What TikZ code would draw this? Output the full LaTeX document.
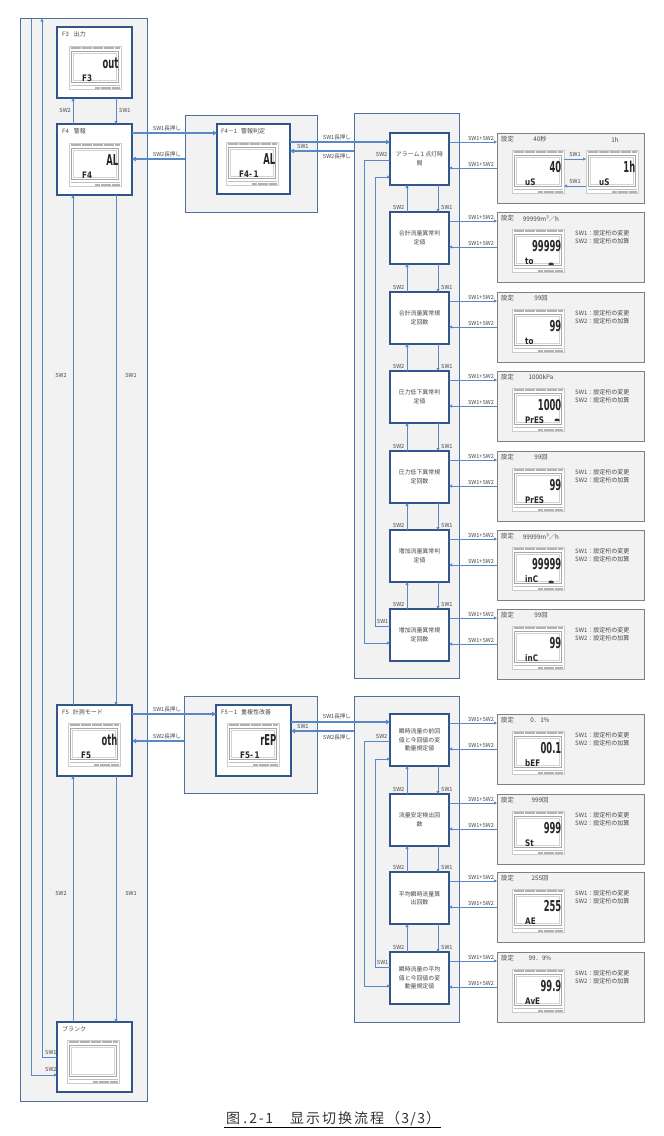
\documentclass[tikz,border=0pt]{standalone}
\usepackage{fontspec}
\setmainfont{Noto Sans CJK JP}
\newfontfamily\capfont{Noto Sans CJK SC}
\newfontfamily\lcdfont[FakeStretch=0.56]{DejaVu Sans}
\newfontfamily\lcdsfont[FakeStretch=0.8]{DejaVu Sans}
\usetikzlibrary{arrows.meta,calc}
\definecolor{lc}{RGB}{88,136,198}
\definecolor{bd}{RGB}{50,85,140}
\definecolor{cbg}{RGB}{242,242,242}
\definecolor{tx}{RGB}{70,70,70}
\definecolor{gbd}{RGB}{128,128,128}
\tikzset{
  cont/.style={draw=bd!85, fill=cbg, line width=0.9pt, inner sep=0pt, outer sep=0pt, anchor=north west},
  fbox/.style={draw=bd, fill=white, line width=1.1pt, inner sep=0pt, outer sep=0pt, anchor=north west, minimum width=75pt, minimum height=71pt},
  abox/.style={draw=bd, fill=white, line width=1.1pt, inner sep=0pt, outer sep=0pt, anchor=north west, minimum width=59pt, minimum height=52pt, align=center, text=tx, font=\fontsize{5.9}{8.5}\selectfont},
  dbox/.style={draw=gbd, fill=cbg, line width=0.9pt, inner sep=0pt, outer sep=0pt, anchor=north west, minimum width=147pt, minimum height=70pt},
  conn/.style={draw=lc, line width=0.8pt},
  arr/.style={conn, -{Triangle[length=3pt,width=3pt]}},
  thk/.style={draw=lc, line width=1.7pt, -{Triangle[length=4pt,width=4.5pt]}},
  lbl/.style={font=\fontsize{5.6}{6}\selectfont, text=tx, inner sep=0pt},
  ttl/.style={font=\fontsize{6}{7}\selectfont, text=tx, inner sep=0pt, anchor=west},
  val/.style={font=\fontsize{6.3}{7}\selectfont, text=tx, inner sep=0pt},
  info/.style={font=\fontsize{6}{8}\selectfont, text=tx, inner sep=0pt, anchor=north west, align=left},
  big/.style={font=\lcdfont\bfseries\fontsize{15}{15}\selectfont, text=black!85, inner sep=0pt, anchor=east},
  small/.style={font=\lcdsfont\bfseries\fontsize{9}{9}\selectfont, text=black!85, inner sep=0pt, anchor=west},
  capt/.style={font=\capfont\fontsize{14}{14}\selectfont, text=black!80, inner sep=0pt, anchor=base west},
  lcd/.pic={
    \node[inner sep=0pt, outer sep=0pt, minimum width=52pt, minimum height=43pt, anchor=north west, fill=white, draw=gray!40, line width=0.4pt] (-f) at (0,0) {};
    \draw[gray!60, line width=2.2pt, dash pattern=on 0.6pt off 0.5pt] (1.5,2) -- (50.5,2);
    \draw[gray!70, line width=1.4pt] (2.5,5.5) rectangle (49.5,36.5);
    \draw[gray!35, line width=0.5pt] (4.3,7.3) rectangle (47.7,34.7);
    \draw[gray!50, line width=0.5pt] (1.5,39) -- (50.5,39);
    \draw[gray!60, line width=2pt, dash pattern=on 0.6pt off 0.5pt] (26,41.5) -- (50.5,41.5);
  }
}
\newcommand\fwc[1]{\makebox[16pt]{#1}}
\newcommand\hwc[1]{\makebox[8pt]{#1}}
\newcommand\lcdat[5]{%
  \pic (#1) at (#2,#3) {lcd};
  \node[big] (#1-b) at (#2+49.5,#3+17) {#4};
  \node[small] (#1-s) at (#2+13,#3+32) {#5};
}
\newcommand\lcdmark[2]{%
  \fill[black!80] (#1-2.5,#2+1.2) -- ++(0,-1.5) -- ++(1.2,-1) -- ++(2.6,0) -- ++(1.2,1) -- ++(0,1.5) -- cycle;
}
\newcommand\setrow[3]{%
  \draw[arr] ($(#1.north east)+(0,9)$) -- ($(#2.north west)+(0,9)$);
  \draw[arr] ($(#2.north west)+(0,35)$) -- ($(#1.north east)+(0,35)$);
  \node[lbl, anchor=south] (#1-la) at (481,#3+7.5) {SW1+SW2};
  \node[lbl, anchor=south] (#1-lb) at (481,#3+33.5) {SW1+SW2};
}
\newcommand\vlink[3]{% upper, lower, top of lower
  \draw[arr] (#2.north -| 407,0) -- (#1.south -| 407,0);
  \draw[arr] (#1.south -| 438,0) -- (#2.north -| 438,0);
  \node[lbl, anchor=south east] (#2-u) at (404.5,#3-2) {SW2};
  \node[lbl, anchor=south west] (#2-d) at (441,#3-2) {SW1};
}
\begin{document}
\begin{tikzpicture}[x=1pt,y=-1pt]
\useasboundingbox (0,0) rectangle (664,1136);
\fill[white] (0,0) rectangle (664,1136);

% containers
\node[cont, minimum width=127pt, minimum height=1083pt] (LC) at (20,18) {};
\node[cont, minimum width=132pt, minimum height=97pt] (C41) at (185,115) {};
\node[cont, minimum width=133pt, minimum height=97pt] (C51) at (184,696) {};
\node[cont, minimum width=105pt, minimum height=565pt] (RC1) at (354,113) {};
\node[cont, minimum width=105pt, minimum height=326pt] (RC2) at (354,696) {};

% left boxes
\node[fbox] (F3) at (57,27) {};
\node[fbox] (F4) at (57,124) {};
\node[fbox] (F5) at (57,705) {};
\node[fbox, minimum height=70pt] (BL) at (57,1022) {};
\node[fbox, minimum width=73pt, minimum height=70pt] (F41) at (217,124) {};
\node[fbox] (F51) at (216,705) {};

\node[ttl] (F3t) at (62,34) {F3\hspace{5pt}出力};
\node[ttl] (F4t) at (62,131) {F4\hspace{5pt}警報};
\node[ttl] (F5t) at (62,712) {F5\hspace{4pt}計測モード};
\node[ttl] (BLt) at (62,1029) {ブランク};
\node[ttl] (F41t) at (221,131) {F4－1\hspace{4pt}警報判定};
\node[ttl] (F51t) at (221,712) {F5－1\hspace{4pt}重複性改善};

\lcdat{L3}{69}{46}{out}{F3}
\lcdat{L4}{69}{143}{AL}{F4}
\lcdat{L41}{226}{142}{AL}{F4-\,1}
\lcdat{L5}{68}{723}{oth}{F5}
\lcdat{L51}{227}{723}{rEP}{F5-\,1}
\pic (LB) at (67,1040) {lcd};

% alarm boxes
\node[abox] (A1) at (390,133) {アラーム１点灯時\\間};
\node[abox] (A2) at (390,212) {合計流量異常判\\定値};
\node[abox] (A3) at (390,292) {合計流量異常規\\定回数};
\node[abox] (A4) at (390,371) {圧力低下異常判\\定値};
\node[abox] (A5) at (390,451) {圧力低下異常規\\定回数};
\node[abox] (A6) at (390,530) {増加流量異常判\\定値};
\node[abox] (A7) at (390,609) {増加流量異常規\\定回数};
\node[abox] (B1) at (390,714) {瞬時流量の前回\\値と今回値の変\\動量規定値};
\node[abox] (B2) at (390,794) {流量安定検出回\\数};
\node[abox] (B3) at (390,872) {平均瞬時流量算\\出回数};
\node[abox] (B4) at (390,952) {瞬時流量の平均\\値と今回値の変\\動量規定値};

% display 1
\node[dbox] (D1) at (497,133) {};
\node[val, anchor=west] (D1-s) at (501,139) {設定};
\node[val] (D1-v) at (540,139.5) {40秒};
\node[val] (D1-w) at (615,139.5) {1h};
\lcdat{LDa}{512}{150}{40}{uS}
\lcdat{LDb}{586}{150}{1h}{uS}
\draw[arr] (LDa-f.east |- 0,159) -- (LDb-f.west |- 0,159);
\draw[arr] (LDb-f.west |- 0,186) -- (LDa-f.east |- 0,186);
\node[lbl] (D1-k1) at (575,154) {SW1};
\node[lbl] (D1-k2) at (575,181) {SW1};

\foreach \n/\t/\v/\b/\s in {2/212/99999m³／h/99999/to, 3/292/99回/99/to, 4/371/1000kPa/1000/PrES, 5/451/99回/99/PrES, 6/530/99999m³／h/99999/inC, 7/609/99回/99/inC}{
  \node[dbox] (D\n) at (497,\t) {};
  \node[val, anchor=west] (D\n-s) at (501,\t+6) {設定};
  \node[val] (D\n-v) at (541,\t+6.5) {\v};
  \lcdat{LD\n}{512}{\t+17}{\b}{\s}
  \node[info] (D\n-i) at (575,\t+18) {SW1：設定桁の変更\\SW2：設定桁の加算};
}
\foreach \n/\t/\v/\b/\s in {1/714/0．1\%/00.1/bEF, 2/794/999回/999/St, 3/872/255回/255/AE, 4/952/99．9\%/99.9/AvE}{
  \node[dbox] (E\n) at (497,\t) {};
  \node[val, anchor=west] (E\n-s) at (501,\t+6) {設定};
  \node[val] (E\n-v) at (540,\t+6.5) {\v};
  \lcdat{LE\n}{512}{\t+17}{\b}{\s}
  \node[info] (E\n-i) at (575,\t+18) {SW1：設定桁の変更\\SW2：設定桁の加算};
}
\lcdmark{551}{264}
\lcdmark{557}{420}
\lcdmark{551}{582}

% rows
\setrow{A1}{D1}{133}
\setrow{A2}{D2}{212}
\setrow{A3}{D3}{292}
\setrow{A4}{D4}{371}
\setrow{A5}{D5}{451}
\setrow{A6}{D6}{530}
\setrow{A7}{D7}{609}
\setrow{B1}{E1}{714}
\setrow{B2}{E2}{794}
\setrow{B3}{E3}{872}
\setrow{B4}{E4}{952}

% vertical links
\vlink{A1}{A2}{212}
\vlink{A2}{A3}{292}
\vlink{A3}{A4}{371}
\vlink{A4}{A5}{451}
\vlink{A5}{A6}{530}
\vlink{A6}{A7}{609}
\vlink{B1}{B2}{794}
\vlink{B2}{B3}{872}
\vlink{B3}{B4}{952}

% wraps
\draw[arr] (A1.west |- 0,160) -- (364,160) -- (364,643) -- (A7.west |- 0,643);
\draw[arr] (A7.west |- 0,626) -- (375,626) -- (375,177) -- (A1.west |- 0,177);
\node[lbl, anchor=east] (wA2) at (387.5,154) {SW2};
\node[lbl, anchor=east] (wA1) at (388.5,621) {SW1};
\draw[arr] (B1.west |- 0,741) -- (364,741) -- (364,986) -- (B4.west |- 0,986);
\draw[arr] (B4.west |- 0,967) -- (375,967) -- (375,759) -- (B1.west |- 0,759);
\node[lbl, anchor=east] (wB2) at (387.5,736) {SW2};
\node[lbl, anchor=east] (wB1) at (388.5,962) {SW1};

% thick links
\draw[thk] (F4.east |- 0,133) -- (F41.west |- 0,133);
\draw[thk] (C41.west |- 0,159) -- (F4.east |- 0,159);
\draw[thk] (F41.east |- 0,142) -- (A1.west |- 0,142);
\draw[thk] (RC1.west |- 0,151) -- (F41.east |- 0,151);
\node[lbl] (k1) at (167,128) {SW1長押し};
\node[lbl] (k2) at (167,154) {SW2長押し};
\node[lbl] (k3) at (337,137) {SW1長押し};
\node[lbl, anchor=west] (k4) at (297,146.5) {SW1};
\node[lbl] (k5) at (337,156) {SW2長押し};
\draw[thk] (F5.east |- 0,714) -- (F51.west |- 0,714);
\draw[thk] (C51.west |- 0,741) -- (F5.east |- 0,741);
\draw[thk] (F51.east |- 0,722) -- (B1.west |- 0,722);
\draw[thk] (RC2.west |- 0,731) -- (F51.east |- 0,731);
\node[lbl] (k6) at (167,709) {SW1長押し};
\node[lbl] (k7) at (167,736) {SW2長押し};
\node[lbl] (k8) at (337,716) {SW1長押し};
\node[lbl, anchor=west] (k9) at (297,726.5) {SW1};
\node[lbl] (k10) at (337,737) {SW2長押し};

% left vertical links
\draw[arr] (F4.north -| 73,0) -- (F3.south -| 73,0);
\draw[arr] (F3.south -| 116,0) -- (F4.north -| 116,0);
\node[lbl, anchor=east] (l1) at (71,110) {SW2};
\node[lbl, anchor=west] (l2) at (119,110) {SW1};
\draw[arr] (F5.north -| 73,0) -- (F4.south -| 73,0);
\draw[arr] (F4.south -| 116,0) -- (F5.north -| 116,0);
\node[lbl] (l3) at (61,375) {SW2};
\node[lbl] (l4) at (131,375) {SW1};
\draw[arr] (BL.north -| 73,0) -- (F5.south -| 73,0);
\draw[arr] (F5.south -| 116,0) -- (BL.north -| 116,0);
\node[lbl] (l5) at (61,893) {SW2};
\node[lbl] (l6) at (131,893) {SW1};

\coordinate (p42t) at (42,18.5);
\coordinate (p31t) at (31,18.5);
\draw[arr] (BL.west |- 0,1057) -- (42,1057) -- (p42t);
\draw[arr] (p31t) -- (31,1075) -- (BL.west |- 0,1075);
\node[lbl, anchor=west] (l7) at (45,1052.5) {SW1};
\node[lbl, anchor=west] (l8) at (45,1069.5) {SW2};

% caption
\node[capt] (cap1) at (225,1123.5) {\fwc{图}\hwc{.}\hwc{2}\hwc{-}\hwc{1}};
\node[capt] (cap2) at (289,1123.5) {\fwc{显}\fwc{示}\fwc{切}\fwc{换}\fwc{流}\fwc{程}\fwc{（}\hwc{3}\hwc{/}\hwc{3}\fwc{）}};
\coordinate (ulA) at (224,1127.5);
\coordinate (ulB) at (441,1127.5);
\draw[black, line width=0.9pt] (ulA) -- (ulB);
\end{tikzpicture}
\end{document}
